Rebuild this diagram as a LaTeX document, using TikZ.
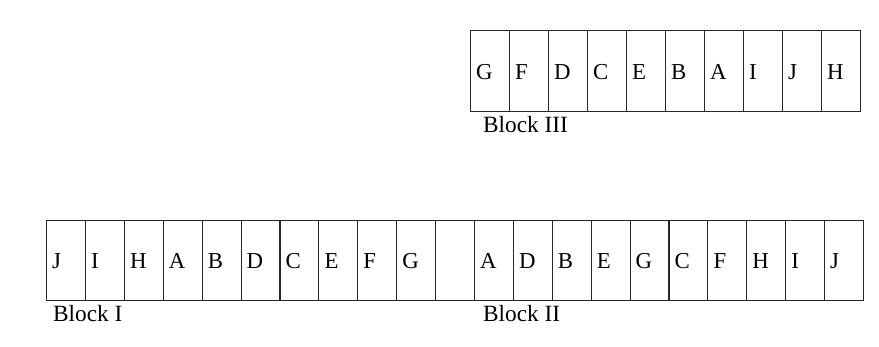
\documentclass[tikz,border=0pt]{standalone}
\usepackage{fontspec}
\setmainfont{Liberation Serif}
\begin{document}
\begin{tikzpicture}[x=1pt,y=-1pt,
  cell/.style={draw=black!85,line width=1.1pt,minimum width=#1,minimum height=81pt,inner sep=0pt,anchor=north west},
  cell/.default=39pt,
  letter/.style={anchor=base west,inner sep=0pt,font=\fontsize{22.8}{26}\selectfont},
  caption/.style={anchor=base west,inner sep=0pt,font=\fontsize{23.3}{27}\selectfont}]
\useasboundingbox (0,0) rectangle (879,347);
% Block III: one row of ten cells
\foreach \l [count=\i from 0] in {G,F,D,C,E,B,A,I,J,H}{
  \node[cell] (t\i) at ({470+39*\i},30) {};
  \node[letter] (tl\i) at ({470+39*\i+6},80) {\l};
}
\node[caption] (b3) at (483,133) {Block III};
% Blocks I and II: one row of twenty-one cells, the middle one empty
\foreach \l [count=\i from 0] in {J,I,H,A,B,D,C,E,F,G,{},A,D,B,E,G,C,F,H,I,J}{
  \node[cell=38.9pt,minimum height=80pt] (b\i) at ({46+38.9*\i},220) {};
  \node[letter] (bl\i) at ({46+38.9*\i+6},269) {\l};
}
\node[caption] (b1) at (53,322) {Block I};
\node[caption] (b2) at (483,322) {Block II};
\end{tikzpicture}
\end{document}
